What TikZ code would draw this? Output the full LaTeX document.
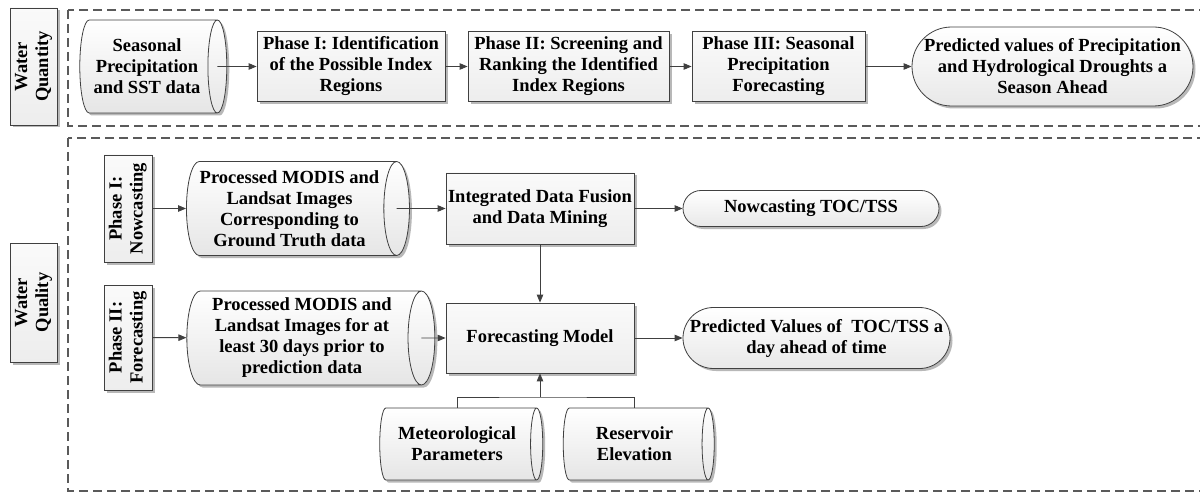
\documentclass[tikz,border=0pt]{standalone}
\usepackage{fontspec}
\setmainfont{Liberation Serif}
\usepackage{graphicx}
\usetikzlibrary{shapes.geometric,shapes.misc,shadows,arrows.meta}
\definecolor{linec}{HTML}{404040}
\definecolor{framec}{HTML}{5A5A5A}

\tikzset{
  base/.style={draw=linec, line width=0.8pt, align=center, inner sep=2pt,
    font=\bfseries\fontsize{18.5}{21}\selectfont},
  softshadow/.style={drop shadow={shadow xshift=2.5pt, shadow yshift=-2.5pt,
    fill=black, opacity=0.28}},
  procbox/.style={base, rectangle, top color=gray!4, bottom color=gray!14, softshadow},
  % horizontal data cylinder: "height" runs along the axis, "width" across it
  datacyl/.style={base, cylinder, shape aspect=0.32, top color=white,
    bottom color=gray!20, softshadow},
  term/.style={base, rounded rectangle, top color=white, bottom color=gray!18, softshadow},
  frame/.style={draw=framec, line width=1.1pt, dash pattern=on 9pt off 5pt},
  link/.style={draw=linec, line width=0.9pt},
  arr/.style={link, -{Triangle[length=8pt,width=6.5pt]}},
}
\newcommand{\vtext}[1]{\rotatebox{90}{\begin{tabular}{@{}c@{}}#1\end{tabular}}}

\begin{document}
\begin{tikzpicture}[x=1pt,y=-1pt]
\useasboundingbox (0,0) rectangle (1200,492);
\clip (0,0) rectangle (1200,492);

% dashed group frames
\draw[frame] (68,10) rectangle (1215,126);
\draw[frame] (68,138) rectangle (1215,491);

% ---- water quantity ----
\node[procbox, minimum width=47pt, minimum height=117pt] (wqn) at (33.5,66.5)
  {\vtext{Water\\Quantity}};

\node[datacyl, minimum height=147pt, minimum width=93pt] (d1) at (147,66.5)
  {Seasonal\\Precipitation\\and SST data};
\node[procbox, minimum width=188pt, minimum height=70pt] (p1) at (351,66.5)
  {Phase I: Identification\\of the Possible Index\\Regions};
\node[procbox, minimum width=201pt, minimum height=70pt] (p2) at (568.5,66.5)
  {Phase II: Screening and\\Ranking the Identified\\Index Regions};
\node[procbox, minimum width=173pt, minimum height=70pt] (p3) at (778.5,66.5)
  {Phase III: Seasonal\\Precipitation\\Forecasting};
\node[term, minimum width=285pt, minimum height=79pt] (out1) at (1052.5,66.5)
  {Predicted values of Precipitation\\and Hydrological Droughts a\\Season Ahead};

\draw[arr] (d1.before top |- d1.east) -- (p1);
\draw[arr] (p1) -- (p2);
\draw[arr] (p2) -- (p3);
\draw[arr] (p3) -- (out1);

% ---- water quality ----
\node[procbox, minimum width=47pt, minimum height=119pt] (wql) at (33.5,302.5)
  {\vtext{Water\\Quality}};
\node[procbox, minimum width=48pt, minimum height=107pt] (ph1) at (128,208.5)
  {\vtext{Phase I:\\Nowcasting}};
\node[procbox, minimum width=48pt, minimum height=105pt] (ph2) at (128,337.5)
  {\vtext{Phase II:\\Forecasting}};

\node[datacyl, minimum height=223pt, minimum width=94pt] (c1) at (289.5,208.5)
  {Processed MODIS and\\Landsat Images\\Corresponding to\\Ground Truth data};
\node[datacyl, minimum height=248pt, minimum width=94pt] (c2) at (302,338)
  {Processed MODIS and\\Landsat Images for at\\least 30 days prior to\\prediction data};

\node[procbox, minimum width=188pt, minimum height=71pt] (fus) at (540,208.5)
  {Integrated Data Fusion\\and Data Mining};
\node[procbox, minimum width=188pt, minimum height=70pt] (fm) at (540,338)
  {Forecasting Model};

\node[term, minimum width=260pt, minimum height=36pt] (now) at (811,208.5)
  {Nowcasting TOC/TSS};
\node[term, minimum width=271pt, minimum height=61pt] (pred) at (816.5,338)
  {Predicted Values of\ \ TOC/TSS a\\day ahead of time};

\node[datacyl, minimum height=163pt, minimum width=72pt] (met) at (457,444)
  {Meteorological\\Parameters};
\node[datacyl, minimum height=151pt, minimum width=72pt] (res) at (634.5,444)
  {Reservoir\\Elevation};
\coordinate (join) at (540,397);

\draw[arr] (ph1) -- (c1);
\draw[arr] (ph2) -- (c2);
\draw[arr] (c1.before top |- c1.east) -- (fus);
\draw[arr] (c2.before top |- c2.east) -- (fm);
\draw[arr] (fus) -- (now);
\draw[arr] (fus) -- (fm);
\draw[arr] (fm) -- (pred);
\draw[link] (met.north) |- (join) -| (res.north);
\draw[arr] (join) -- (fm);
\end{tikzpicture}
\end{document}
